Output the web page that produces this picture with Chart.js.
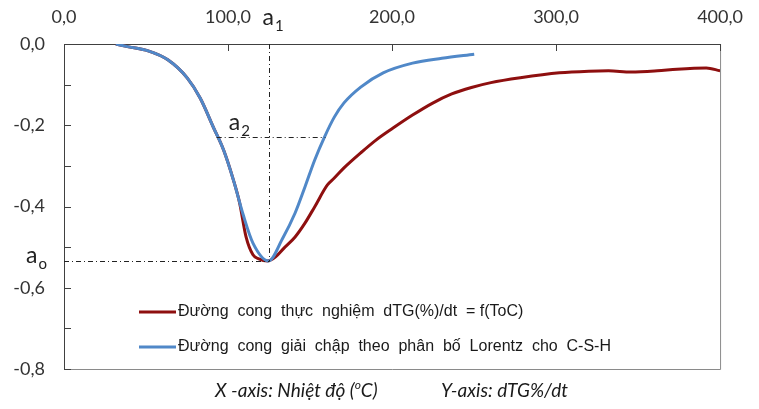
<!DOCTYPE html>
<html>
<head>
<meta charset="utf-8">
<script src="https://cdn.jsdelivr.net/npm/chart.js@4"></script>
<style>
    body { margin: 0; background: #fff; }
</style>
</head>
<body>
<canvas id="dtgChart" width="759" height="409"></canvas>
<script>
// Experimental dTG curve (temperature, value)
const expTemp = [31.6, 39.4, 51.3, 63.3, 75.2, 83.0, 91.3, 97.3, 103.3, 107.0, 111.0, 115.2, 118.8, 124.2, 129.0, 134.0, 140.9, 146.9, 152.8, 160.6, 164.8, 170.7, 180.9, 190.4, 200.6, 212.5, 224.5, 236.4, 248.4, 260.3, 278.2, 302.1, 320.0, 332.0, 345.7, 361.8, 373.7, 391.6, 400.0];
const expValue = [0, -0.007, -0.017, -0.039, -0.084, -0.133, -0.207, -0.261, -0.335, -0.39, -0.475, -0.519, -0.529, -0.534, -0.524, -0.503, -0.475, -0.441, -0.401, -0.347, -0.330, -0.305, -0.268, -0.236, -0.207, -0.175, -0.146, -0.123, -0.107, -0.095, -0.083, -0.071, -0.067, -0.066, -0.069, -0.066, -0.062, -0.059, -0.066];

// Lorentz fit for C-S-H
const fitTemp = [31.6, 39.4, 51.3, 63.3, 75.2, 83.0, 91.3, 97.3, 103.3, 109.3, 115.2, 124.8, 133.1, 140.9, 146.9, 152.8, 158.8, 164.8, 170.7, 180.9, 194.6, 212.5, 230.4, 250.1];
const fitValue = [0, -0.007, -0.017, -0.039, -0.084, -0.133, -0.207, -0.261, -0.335, -0.421, -0.490, -0.534, -0.480, -0.416, -0.352, -0.286, -0.229, -0.180, -0.145, -0.106, -0.071, -0.047, -0.035, -0.025];

const seriesLabels = [
    'Đường  cong  thực  nghiệm  dTG(%)/dt  = f(ToC)',
    'Đường  cong  giải  chập  theo  phân  bố  Lorentz  cho  C-S-H'
];

// peak (a1, a0) and half-height (a2) markers
const peakT = 124.8;
const peakV = -0.534;
const halfV = -0.228;
const halfT = [93.1, 159.4];

const xTicks = [0, 100, 200, 300, 400];

function fmt(v) {
    const r = Math.round(v * 10) / 10;
    return (r === 0 ? 0 : r).toFixed(1).replace('.', ',');
}

function toPoints(xs, ys) {
    return xs.map((x, i) => ({ x: x, y: ys[i] }));
}

// Draws the inward ticks, right/bottom frame, marker lines, labels, legend and axis caption
const decorPlugin = {
    id: 'decor',
    afterDatasetsDraw(chart) {
        const ctx = chart.ctx;
        const area = chart.chartArea;
        const xs = chart.scales.x;
        const ys = chart.scales.y;
        ctx.save();

        // frame right and bottom
        ctx.strokeStyle = '#8a8a8a';
        ctx.lineWidth = 1;
        ctx.beginPath();
        ctx.moveTo(area.right + 0.5, area.top);
        ctx.lineTo(area.right + 0.5, area.bottom + 0.5);
        ctx.lineTo(area.left, area.bottom + 0.5);
        ctx.stroke();

        // inward ticks
        ctx.strokeStyle = '#404040';
        ctx.beginPath();
        ys.ticks.forEach(t => {
            const py = Math.round(ys.getPixelForValue(t.value)) + 0.5;
            ctx.moveTo(area.left, py);
            ctx.lineTo(area.left + 7, py);
        });
        xs.ticks.forEach(t => {
            const px = Math.round(xs.getPixelForValue(t.value)) + 0.5;
            ctx.moveTo(px, area.top);
            ctx.lineTo(px, area.top + 7);
        });
        ctx.stroke();

        // dash-dot marker lines
        const pX = Math.round(xs.getPixelForValue(peakT)) + 0.5;
        const pY = Math.round(ys.getPixelForValue(peakV)) + 0.5;
        const hY = Math.round(ys.getPixelForValue(halfV)) + 0.5;
        ctx.strokeStyle = '#222';
        ctx.setLineDash([5, 3, 1, 3]);
        ctx.beginPath();
        ctx.moveTo(pX, area.top);
        ctx.lineTo(pX, pY);
        ctx.moveTo(area.left, pY);
        ctx.lineTo(pX, pY);
        ctx.moveTo(xs.getPixelForValue(halfT[0]), hY);
        ctx.lineTo(xs.getPixelForValue(halfT[1]), hY);
        ctx.stroke();
        ctx.setLineDash([]);

        // a labels
        ctx.fillStyle = '#222';
        ctx.textBaseline = 'alphabetic';
        ctx.textAlign = 'left';
        function sub(main, small, x, y) {
            ctx.font = '23px Lato';
            ctx.fillText(main, x, y);
            const w = ctx.measureText(main).width;
            ctx.font = '15px Lato';
            ctx.fillText(small, x + w + 1, y + 6);
        }
        sub('a', '1', pX - 7, 25);
        sub('a', '2', xs.getPixelForValue(peakT) - 40, hY - 8);
        sub('a', 'o', 26, pY + 1);

        // legend
        const legendY = [312, 347];
        chart.data.datasets.forEach((ds, i) => {
            ctx.strokeStyle = ds.borderColor;
            ctx.lineWidth = 3;
            ctx.beginPath();
            ctx.moveTo(139, legendY[i]);
            ctx.lineTo(176, legendY[i]);
            ctx.stroke();
            ctx.fillStyle = '#1a1a1a';
            ctx.font = '16px "Liberation Sans"';
            ctx.textBaseline = 'middle';
            ctx.fillText(ds.label, 178, legendY[i]);
        });

        // bottom caption
        ctx.textBaseline = 'alphabetic';
        ctx.fillStyle = '#1a1a1a';
        let cx = 215;
        const cy = 397;
        const parts = [['X -axis: Nhiệt độ (', 19, 0], ['o', 12, -8], ['C)', 19, 0]];
        parts.forEach(p => {
            ctx.font = 'italic ' + p[1] + 'px Lato';
            ctx.fillText(p[0], cx, cy + p[2]);
            cx += ctx.measureText(p[0]).width;
        });
        ctx.font = 'italic 19px Lato';
        ctx.fillText('Y-axis: dTG%/dt', 441, cy);

        ctx.restore();
    }
};

const ctx = document.getElementById('dtgChart').getContext('2d');
const dtgChart = new Chart(ctx, {
    type: 'line',
    data: {
        datasets: [{
            label: seriesLabels[0],
            data: toPoints(expTemp, expValue),
            borderColor: '#8e0f0f',
            borderWidth: 3,
            pointRadius: 0,
            cubicInterpolationMode: 'monotone',
            order: 2
        }, {
            label: seriesLabels[1],
            data: toPoints(fitTemp, fitValue),
            borderColor: '#5088c8',
            borderWidth: 3,
            pointRadius: 0,
            cubicInterpolationMode: 'monotone',
            order: 1
        }]
    },
    options: {
        responsive: false,
        animation: false,
        layout: { padding: { top: 0, left: 0, right: 25, bottom: 40 } },
        plugins: {
            legend: { display: false },
            tooltip: { enabled: false }
        },
        scales: {
            x: {
                type: 'linear',
                position: 'top',
                min: 0,
                max: 400,
                afterBuildTicks: scale => { scale.ticks = xTicks.map(v => ({ value: v })); },
                afterFit: scale => { scale.height = 44; },
                grid: { display: false, drawTicks: false },
                border: { color: '#404040', width: 1 },
                ticks: {
                    padding: 16,
                    color: '#333',
                    font: { family: 'Lato', size: 18 },
                    maxRotation: 0,
                    callback: v => fmt(v)
                }
            },
            y: {
                min: -0.8,
                max: 0,
                afterFit: scale => { scale.width = 64; },
                grid: { display: false, drawTicks: false },
                border: { color: '#404040', width: 1 },
                ticks: {
                    stepSize: 0.1,
                    padding: 19,
                    color: '#333',
                    font: { family: 'Lato', size: 18 },
                    autoSkip: false,
                    callback: v => (Math.round(v * 10) % 2 === 0 ? fmt(v) : '')
                }
            }
        }
    },
    plugins: [decorPlugin]
});
</script>
</body>
</html>
